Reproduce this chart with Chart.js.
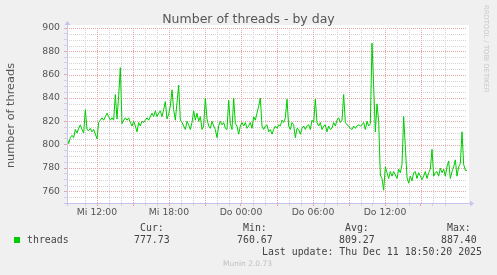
<!DOCTYPE html>
<html>
<head>
<meta charset="utf-8">
<title>Number of threads - by day</title>
<script src="https://cdn.jsdelivr.net/npm/chart.js@4.4.1/dist/chart.umd.min.js"></script>
<style>
  html, body { margin: 0; padding: 0; background: #f0f0f0; }
  #wrap { position: relative; width: 497px; height: 275px; overflow: hidden; font-family: "DejaVu Sans", sans-serif; }
  #wrap canvas { position: absolute; left: 0; top: 0; }
  .t { position: absolute; white-space: pre; line-height: 1; }
  .mono { font-family: "DejaVu Sans Mono", monospace; font-size: 9.9px; color: #444; }
</style>
</head>
<body>
<div id="wrap">
  <canvas id="chart" width="497" height="275"></canvas>
  <div class="t" id="title" style="left:0;width:497px;top:13px;text-align:center;font-size:12.5px;color:#555;"></div>
  <div class="t" id="credit" style="left:482px;top:5px;font-size:6.8px;color:#c8c8c8;writing-mode:vertical-rl;"></div>
  <div id="legend"></div>
  <div class="t" id="version" style="left:223px;top:260px;font-size:7.5px;color:#c0c0c0;"></div>
</div>

<script>
// --- data ---
const chartTitle = 'Number of threads - by day';
const yAxisTitle = 'number of threads';
const seriesName = 'threads';

// samples are evenly spaced from Mi 09:30 to Do 18:50
const startHour = 9.5;
const stepHours = 5 / 36;
const endHour = 42 + 50 / 60;

const threads = [
  806, 801, 806, 808, 806, 813, 810, 814, 817, 813,
  810, 830, 813, 812, 814, 811, 813, 809, 805, 819,
  821, 823, 821, 824, 827, 824, 821, 823, 821, 843,
  822, 842, 866, 818, 821, 823, 821, 823, 819, 816,
  820, 816, 811, 819, 816, 820, 819, 821, 823, 821,
  824, 827, 824, 829, 824, 827, 829, 824, 830, 837,
  822, 826, 833, 847, 830, 821, 836, 851, 821, 819,
  816, 813, 820, 817, 813, 819, 829, 821, 827, 820,
  824, 813, 816, 840, 822, 816, 814, 820, 816, 813,
  806, 816, 820, 817, 819, 814, 813, 838, 818, 813,
  840, 818, 816, 809, 816, 819, 816, 819, 814, 816,
  819, 814, 824, 821, 827, 833, 840, 816, 813, 816,
  817, 811, 813, 809, 813, 816, 814, 817,
  816, 821, 819, 823, 839, 816, 813, 819, 817, 806,
  814, 813, 809, 814, 816, 813, 816, 817, 813, 821,
  819, 839, 819, 816, 819, 813, 816, 817, 811, 816,
  813, 814, 819, 816, 821, 823, 819, 821, 843, 819,
  817, 816, 814, 813, 816, 814, 816, 817, 816, 817,
  819, 813, 820, 816, 818, 887, 850, 811, 835, 820,
  774, 771, 761, 781, 776, 771, 777, 773, 777, 774,
  771, 779, 776, 783, 824, 798, 772, 767, 773, 769,
  776, 777, 771, 776, 773, 770, 773, 777, 771, 776,
  779, 796, 773, 776, 777, 773, 780, 776, 779, 773,
  781, 786, 771, 777, 781, 787, 773, 781, 784, 811,
  783, 778, 778
];

const yMin = 750;
const yMax = 900;
const xTickHours = [12, 18, 24, 30, 36, 42];
const xTickLabels = ['Mi 12:00', 'Mi 18:00', 'Do 00:00', 'Do 06:00', 'Do 12:00', 'Do 18:00'];

const statNames = ['Cur:', 'Min:', 'Avg:', 'Max:'];
const statValues = ['777.73', '760.67', '809.27', '887.40'];
const lastUpdate = 'Last update: Thu Dec 11 18:50:20 2025';
const versionText = 'Munin 2.0.73';
const creditText = 'RRDTOOL / TOBI OETIKER';

// --- colours ---
const lineColor = '#00cc00';
const majorGrid = '#e6a6a6';
const minorGrid = '#d2d2d2';
const axisColor = '#c4c4ee';
const textColor = '#555';

// *html text*
document.querySelector('#title').textContent = chartTitle;
document.querySelector('#credit').textContent = creditText;
document.querySelector('#version').textContent = versionText;

const statX = [140, 243, 345, 447];
const valueX = [134, 237, 339, 441];
let legendHTML = `<div style="position:absolute;left:14px;top:237px;width:6px;height:6px;background:${lineColor}"></div>`;
legendHTML += `<div class="t mono" style="left:27px;top:235px;">${seriesName}</div>`;
statNames.forEach((name, i) => {
  legendHTML += `<div class="t mono" style="left:${statX[i]}px;top:223px;">${name}</div>`;
  legendHTML += `<div class="t mono" style="left:${valueX[i]}px;top:235px;">${statValues[i]}</div>`;
});
legendHTML += `<div class="t mono" style="left:262px;top:247px;">${lastUpdate}</div>`;
document.querySelector('#legend').innerHTML = legendHTML;

const isMajorX = v => v % 3 === 0;
const isMajorY = v => v % 20 === 0;

// dotted rrdtool-like grid, one dot every other pixel
const muninGrid = {
  id: 'muninGrid',
  beforeDatasetsDraw(chart) {
    const {ctx, chartArea: a, scales: {x, y}} = chart;
    const top = Math.round(a.top), bottom = Math.round(a.bottom);
    const left = Math.round(a.left), right = Math.round(a.right);
    ctx.save();
    // minor first, major on top
    [false, true].forEach(major => {
      ctx.fillStyle = major ? majorGrid : minorGrid;
      x.ticks.forEach(t => {
        if (isMajorX(t.value) !== major) return;
        const px = Math.round(x.getPixelForValue(t.value));
        for (let py = top; py < bottom; py += 2) ctx.fillRect(px, py, 1, 1);
      });
      y.ticks.forEach(t => {
        if (isMajorY(t.value) !== major || t.value === yMin) return;
        const py = Math.round(y.getPixelForValue(t.value));
        for (let px = left; px < right; px += 2) ctx.fillRect(px, py, 1, 1);
      });
    });
    ctx.restore();
  }
};

// plot background + munin style axis arrows
const muninFrame = {
  id: 'muninFrame',
  beforeDraw(chart) {
    const {ctx, chartArea: a} = chart;
    ctx.save();
    ctx.fillStyle = '#ffffff';
    ctx.fillRect(a.left, a.top - 3, a.right - a.left + 2, a.bottom - a.top + 3);
    ctx.restore();
  },
  afterDraw(chart) {
    const {ctx, chartArea: a} = chart;
    const y0 = Math.round(a.bottom) + 0.5;
    const x0 = Math.round(a.left) + 0.5;
    ctx.save();
    ctx.strokeStyle = axisColor;
    ctx.fillStyle = axisColor;
    ctx.lineWidth = 1;
    ctx.beginPath();
    ctx.moveTo(a.left - 3, y0);
    ctx.lineTo(a.right + 4, y0);
    ctx.moveTo(x0, a.bottom + 3);
    ctx.lineTo(x0, a.top - 4);
    ctx.stroke();
    ctx.beginPath();
    ctx.moveTo(a.right + 3, y0 - 3);
    ctx.lineTo(a.right + 7, y0);
    ctx.lineTo(a.right + 3, y0 + 3);
    ctx.fill();
    ctx.beginPath();
    ctx.moveTo(x0 - 3, a.top - 3);
    ctx.lineTo(x0, a.top - 7);
    ctx.lineTo(x0 + 3, a.top - 3);
    ctx.fill();
    ctx.restore();
  }
};

function noScalePadding(scale) {
  scale.paddingTop = 0;
  scale.paddingBottom = 0;
  scale.paddingLeft = 0;
  scale.paddingRight = 0;
}

Chart.defaults.font.family = "'DejaVu Sans', sans-serif";

new Chart(document.querySelector('#chart'), {
  type: 'line',
  data: {
    datasets: [{
      label: seriesName,
      data: threads.map((v, i) => ({x: startHour + i * stepHours, y: v})),
      borderColor: lineColor,
      borderWidth: 1,
      pointRadius: 0,
      tension: 0,
      fill: false
    }]
  },
  options: {
    responsive: false,
    devicePixelRatio: 1,
    animation: false,
    events: [],
    layout: { padding: { top: 28, right: 30, left: 0, bottom: 0 } },
    plugins: {
      legend: { display: false },
      title: { display: false },
      tooltip: { enabled: false }
    },
    scales: {
      x: {
        type: 'linear',
        min: startHour,
        max: endHour,
        afterBuildTicks: s => { s.ticks = s.ticks.filter(t => Number.isInteger(t.value)); },
        afterFit: s => { s.height = 72; noScalePadding(s); },
        ticks: {
          stepSize: 1,
          autoSkip: false,
          maxRotation: 0,
          padding: 1,
          color: textColor,
          font: { size: 9.3 },
          callback: v => {
            const i = xTickHours.indexOf(v);
            return i >= 0 ? xTickLabels[i] : '';
          }
        },
        grid: {
          drawOnChartArea: false,
          tickColor: c => (c.tick && isMajorX(c.tick.value) ? majorGrid : minorGrid),
          tickLength: 3,
          lineWidth: 1
        },
        border: { display: false }
      },
      y: {
        type: 'linear',
        min: yMin,
        max: yMax,
        afterFit: s => { s.width = 67; noScalePadding(s); },
        ticks: {
          stepSize: 5,
          autoSkip: false,
          padding: 4,
          color: textColor,
          font: { size: 9.3 },
          callback: v => (isMajorY(v) && v > yMin ? String(v) : '')
        },
        grid: {
          drawOnChartArea: false,
          tickColor: c => (c.tick && isMajorY(c.tick.value) ? majorGrid : minorGrid),
          tickLength: 3,
          lineWidth: 1
        },
        border: { display: false },
        title: {
          display: true,
          text: yAxisTitle,
          color: textColor,
          font: { size: 11.3 },
          padding: { top: 4, bottom: 0 }
        }
      }
    }
  },
  plugins: [muninGrid, muninFrame]
});
</script>
</body>
</html>
